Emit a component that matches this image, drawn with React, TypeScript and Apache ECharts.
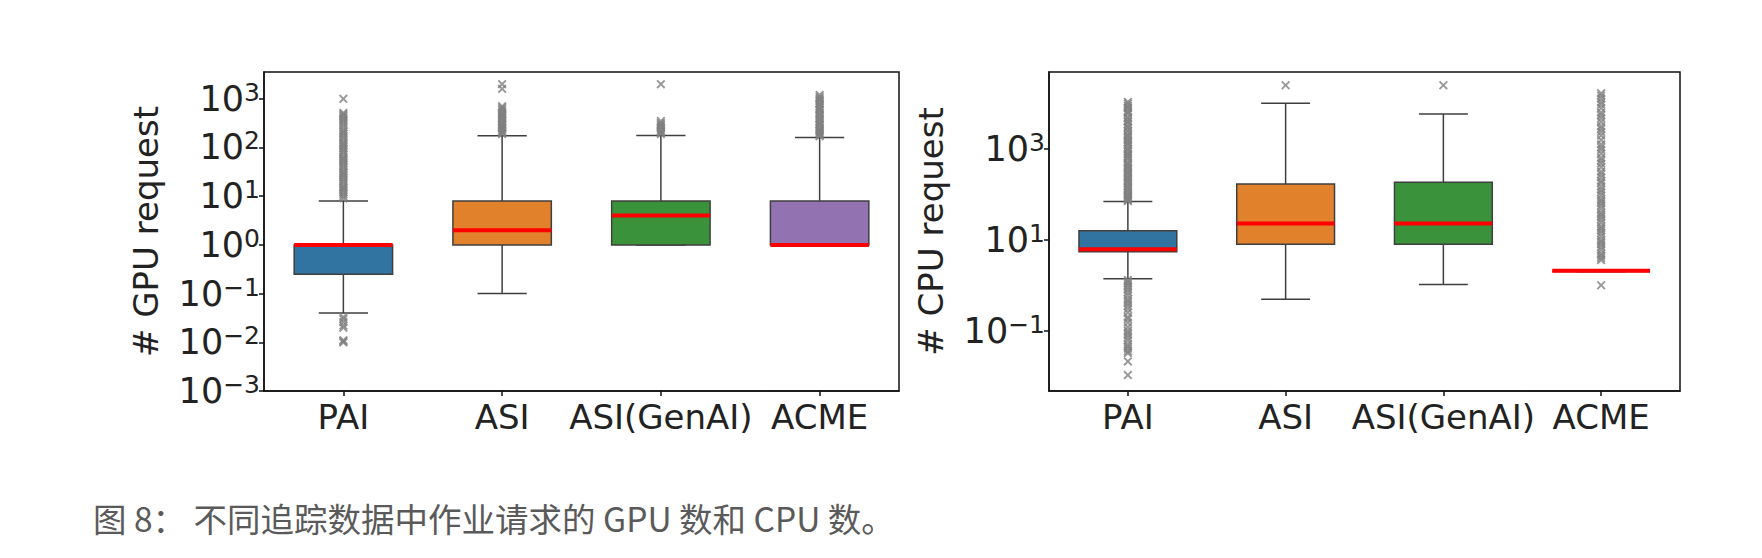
import { useEffect, useRef } from 'react';
import * as echarts from 'echarts';

// categories and box colours
const categories = ['PAI', 'ASI', 'ASI(GenAI)', 'ACME'];
const boxColors = ['#3274a1', '#e1812c', '#3a923a', '#9372b2'];

// GPU request: whisker low, Q1, median, Q3, whisker high
const gpuLow = [0.04, 0.1, 1, 1];
const gpuQ1 = [0.25, 1, 1, 1];
const gpuMedian = [1, 2, 4, 1];
const gpuQ3 = [1, 8, 8, 8];
const gpuHigh = [8, 175, 176, 160];
const gpuOutliers = [
  [0.01, 0.0105, 0.011, 0.02, 0.022, 0.026, 0.03, 0.033,
    9, 10, 11, 12, 13, 14, 15, 16, 18, 20, 22, 24, 26, 28, 30, 32, 36, 40, 44, 48, 52, 56, 60, 64,
    72, 80, 88, 96, 104, 112, 120, 128, 144, 160, 176, 192, 208, 224, 256, 288, 320, 352, 384,
    416, 448, 480, 512, 1000],
  [190, 200, 210, 220, 240, 250, 260, 280, 300, 320, 350, 380, 400, 420, 450, 480, 500, 550, 600,
    650, 700, 1600, 2000],
  [190, 200, 210, 220, 240, 256, 280, 300, 320, 350, 2000],
  [170, 180, 192, 200, 216, 224, 240, 256, 288, 300, 320, 352, 384, 400, 448, 480, 512, 576, 600,
    640, 704, 768, 800, 896, 960, 1024, 1100, 1200],
];

// CPU request
const cpuLow = [1.4, 0.49, 1.04, 2];
const cpuQ1 = [5.5, 8, 8, 2];
const cpuMedian = [6.2, 23, 23, 2.1];
const cpuQ3 = [16, 170, 186, 2];
const cpuHigh = [70, 10300, 5950, 2];
const cpuOutliers = [
  [0.0105, 0.021, 0.032, 0.035, 0.04, 0.045, 0.05, 0.06, 0.07, 0.08, 0.09, 0.1, 0.12, 0.15, 0.18,
    0.2, 0.25, 0.3, 0.35, 0.4, 0.45, 0.5, 0.6, 0.7, 0.8, 0.9, 1.0, 1.1, 1.2, 1.3,
    72, 76, 80, 85, 90, 96, 100, 110, 120, 128, 140, 150, 160, 180, 192, 200, 224, 240, 256, 288,
    300, 320, 360, 384, 400, 448, 480, 512, 600, 640, 700, 768, 800, 900, 1000, 1024, 1200, 1280,
    1400, 1536, 1600, 1800, 2000, 2048, 2400, 2560, 3000, 3072, 3500, 4000, 4096, 4800, 5000,
    6000, 6400, 7000, 8000, 8192, 9000, 10000, 11000],
  [25600],
  [25600],
  [1, 3.6, 4, 4.5, 5, 6, 7, 8, 9, 10, 12, 14, 16, 18, 20, 24, 28, 32, 36, 40, 48, 56, 64, 72, 80,
    96, 112, 128, 150, 180, 200, 240, 280, 320, 400, 480, 560, 640, 800, 960, 1100, 1280, 1600,
    2000, 2400, 2800, 3200, 4000, 4800, 5600, 6400, 8000, 9600, 11000, 13000, 15000, 17000],
];

// tick exponents (log10)
const gpuTicks = [-3, -2, -1, 0, 1, 2, 3];
const cpuTicks = [-1, 1, 3];

const caption = '图 8： 不同追踪数据中作业请求的 GPU 数和 CPU 数。';

const lg = (v: number) => Math.log10(v);
const FONT = 'DejaVu Sans';
const XMARK = 'path://M0,1.5L1.5,0L5,3.5L8.5,0L10,1.5L6.5,5L10,8.5L8.5,10L5,6.5L1.5,10L0,8.5L3.5,5Z';

function boxData(low: number[], q1: number[], med: number[], q3: number[], high: number[]) {
  return categories.map((_, i) => [i, lg(low[i]), lg(q1[i]), lg(med[i]), lg(q3[i]), lg(high[i])]);
}

function outlierData(list: number[][]) {
  return list.flatMap((arr, i) => arr.map((v) => [i, lg(v)]));
}

function renderBox(params: any, api: any) {
  const x = api.value(0);
  const pLo = api.coord([x, api.value(1)]);
  const pQ1 = api.coord([x, api.value(2)]);
  const pMed = api.coord([x, api.value(3)]);
  const pQ3 = api.coord([x, api.value(4)]);
  const pHi = api.coord([x, api.value(5)]);
  const bw = api.size([1, 0])[0] * 0.62;
  const half = bw / 2;
  const cap = bw / 4;
  const cx = pMed[0];
  const edge = { stroke: '#3f3f3f', lineWidth: 1.5 };
  return {
    type: 'group',
    children: [
      { type: 'line', shape: { x1: cx, y1: pQ3[1], x2: cx, y2: pHi[1] }, style: edge },
      { type: 'line', shape: { x1: cx - cap, y1: pHi[1], x2: cx + cap, y2: pHi[1] }, style: edge },
      { type: 'line', shape: { x1: cx, y1: pQ1[1], x2: cx, y2: pLo[1] }, style: edge },
      { type: 'line', shape: { x1: cx - cap, y1: pLo[1], x2: cx + cap, y2: pLo[1] }, style: edge },
      {
        type: 'rect',
        shape: { x: cx - half, y: pQ3[1], width: bw, height: pQ1[1] - pQ3[1] },
        style: { fill: boxColors[params.dataIndex], ...edge },
      },
      {
        type: 'line',
        shape: { x1: cx - half, y1: pMed[1], x2: cx + half, y2: pMed[1] },
        style: { stroke: '#ff0000', lineWidth: 4 },
      },
    ],
  };
}

const powLabel = (v: number) => {
  const e = Math.round(v);
  return `{b|10}{s|${e < 0 ? '\u2212' + -e : e}}`;
};

const axisRich = {
  b: { fontSize: 35, fontFamily: FONT, color: '#222', lineHeight: 38 },
  s: { fontSize: 25, fontFamily: FONT, color: '#222', lineHeight: 31, verticalAlign: 'top' },
};

function yAxis(gridIndex: number, min: number, max: number, ticks: number[], name: string) {
  return {
    type: 'value',
    gridIndex,
    min,
    max,
    name,
    nameLocation: 'middle',
    nameRotate: 90,
    nameGap: 101,
    nameTextStyle: { fontSize: 34, fontFamily: FONT, color: '#222' },
    splitLine: { show: false },
    axisLine: { show: true, onZero: false, lineStyle: { color: '#111', width: 1.5 } },
    axisTick: { show: true, length: 5, customValues: ticks, lineStyle: { color: '#111', width: 1.5 } },
    axisLabel: { customValues: ticks, margin: 4, formatter: powLabel, rich: axisRich },
  };
}

function xAxis(gridIndex: number) {
  return {
    type: 'category',
    gridIndex,
    data: categories,
    axisLine: { show: true, onZero: false, lineStyle: { color: '#111', width: 1.5 } },
    axisTick: {
      show: true,
      alignWithLabel: true,
      interval: 0,
      length: 5,
      lineStyle: { color: '#111', width: 1.5 },
    },
    axisLabel: { interval: 0, fontSize: 34, fontFamily: FONT, color: '#222', margin: 9 },
    splitLine: { show: false },
  };
}

export default function App() {
  const chartRef = useRef<HTMLDivElement>(null);

  useEffect(() => {
    if (!chartRef.current) return;
    const chart = echarts.init(chartRef.current, null, { renderer: 'svg' });

    const option = {
      animation: false,
      backgroundColor: '#ffffff',
      grid: [
        { left: 264, top: 72, width: 635, height: 319, show: true, borderColor: '#111', borderWidth: 1.5 },
        { left: 1049, top: 72, width: 631, height: 319, show: true, borderColor: '#111', borderWidth: 1.5 },
      ],
      xAxis: [xAxis(0), xAxis(1)],
      yAxis: [
        yAxis(0, -3, 3.55, gpuTicks, '# GPU request'),
        yAxis(1, -2.33, 4.7, cpuTicks, '# CPU request'),
      ],
      series: [
        {
          type: 'custom',
          xAxisIndex: 0,
          yAxisIndex: 0,
          renderItem: renderBox,
          encode: { x: 0, y: [1, 2, 3, 4, 5] },
          data: boxData(gpuLow, gpuQ1, gpuMedian, gpuQ3, gpuHigh),
          z: 2,
        },
        {
          type: 'scatter',
          xAxisIndex: 0,
          yAxisIndex: 0,
          symbol: XMARK,
          symbolSize: 9,
          itemStyle: { color: '#808080' },
          data: outlierData(gpuOutliers),
          z: 3,
        },
        {
          type: 'custom',
          xAxisIndex: 1,
          yAxisIndex: 1,
          renderItem: renderBox,
          encode: { x: 0, y: [1, 2, 3, 4, 5] },
          data: boxData(cpuLow, cpuQ1, cpuMedian, cpuQ3, cpuHigh),
          z: 2,
        },
        {
          type: 'scatter',
          xAxisIndex: 1,
          yAxisIndex: 1,
          symbol: XMARK,
          symbolSize: 9,
          itemStyle: { color: '#808080' },
          data: outlierData(cpuOutliers),
          z: 3,
        },
      ],
      graphic: [
        {
          type: 'text',
          x: 93,
          y: 517,
          style: {
            text: caption,
            fontSize: 33.5,
            fontFamily: '"Noto Sans CJK SC", "Noto Sans", sans-serif',
            fill: '#5a5a5a',
            align: 'left',
            verticalAlign: 'middle',
          },
        },
      ],
    };

    chart.setOption(option);

    return () => {
      chart.dispose();
    };
  }, []);

  return (
    <div
      ref={chartRef}
      style={{ position: 'fixed', left: 0, top: 0, width: '1762px', height: '558px' }}
    />
  );
}
